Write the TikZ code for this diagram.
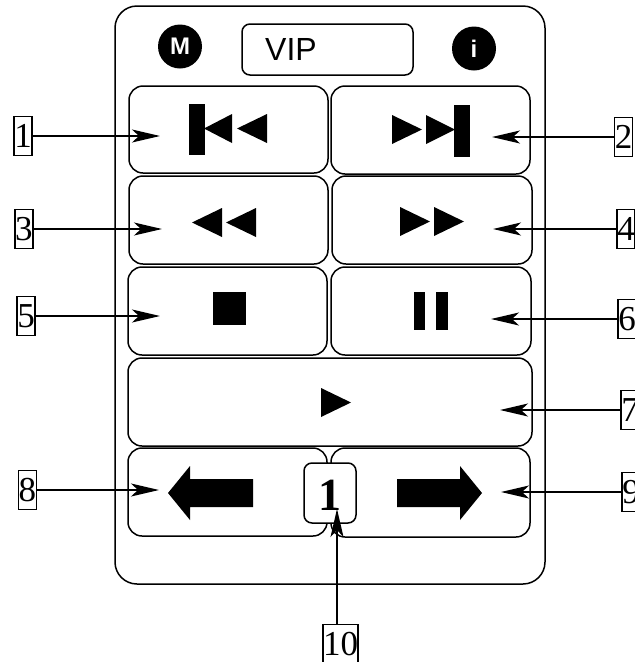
\documentclass[tikz,border=0pt]{standalone}
\usepackage{fontspec}
\setmainfont{Liberation Serif}
\newfontfamily\sansf{Liberation Sans}
\usetikzlibrary{arrows.meta}
\tikzset{
  x=1pt,y=-1pt,
  panel/.style={draw=black,line width=1.5pt,rounded corners=#1,inner sep=0pt,fill=none},
  btn/.style={panel=14pt},
  lab/.style={draw=black,line width=1.7pt,fill=white,inner sep=0pt,font=\fontsize{35}{35}\selectfont,minimum height=39pt,minimum width=18pt,text height=23pt,text depth=0pt},
  badge/.style={circle,fill=black,minimum size=44pt,inner sep=0pt,text=white,font=\sansf\bfseries\fontsize{24}{24}\selectfont},
  call/.style={line width=1.4pt,-{Stealth[length=28pt,width=13pt,inset=7pt]}},
  icon/.style={fill=black,draw=none}
}
\begin{document}
\begin{tikzpicture}
\useasboundingbox (0,0) rectangle (635,662);
\clip (0,0) rectangle (635,662);
\node[panel=22pt,minimum width=430pt,minimum height=578pt] (body) at (330,295) {};
\node[badge] (menu) at (180,46.5) {M};
\node[badge] (info) at (474,48.5) {i};
\node[panel=8pt,minimum width=171pt,minimum height=51pt] (vipbox) at (327.5,49.5) {};
\node[anchor=base west,inner sep=0pt,font=\sansf\fontsize{32}{32}\selectfont] (viptext) at (265,60) {VIP};
% buttons
\node[btn,minimum width=199pt,minimum height=87pt] (b1) at (228.5,129.5) {};
\node[btn,minimum width=199pt,minimum height=88pt] (b2) at (430.5,130) {};
\node[btn,minimum width=199pt,minimum height=88pt] (b3) at (228.5,220) {};
\node[btn,minimum width=200pt,minimum height=88pt] (b4) at (432,220) {};
\node[btn,minimum width=199pt,minimum height=88pt] (b5) at (227.5,311) {};
\node[btn,minimum width=200pt,minimum height=88pt] (b6) at (431,311) {};
\node[btn,minimum width=404pt,minimum height=88pt] (b7) at (330,402) {};
\node[btn,minimum width=199pt,minimum height=88pt] (b8) at (227.5,492) {};
\node[btn,minimum width=199pt,minimum height=89pt] (b9) at (430.5,492.5) {};
\node[panel=8pt,fill=white,minimum width=52pt,minimum height=60pt,font=\bfseries\fontsize{46}{46}\selectfont,text height=34pt,text depth=0pt] (count) at (330,493) {1};
% icons
\fill[icon] (189,104) rectangle (205,155);
\fill[icon] (204,128.5) -- (232,114) -- (232,143) -- cycle;
\fill[icon] (237,128.5) -- (267,114) -- (267,143) -- cycle;
\fill[icon] (192,222.5) -- (222,208) -- (222,237) -- cycle;
\fill[icon] (226,222.5) -- (256,208) -- (256,237) -- cycle;
\fill[icon] (213,292) rectangle (246,325);
\fill[icon] (392,115) -- (422,129.5) -- (392,144) -- cycle;
\fill[icon] (426,115) -- (455,129.5) -- (426,144) -- cycle;
\fill[icon] (454,105) rectangle (470,157);
\fill[icon] (400,207) -- (430,221.5) -- (400,236) -- cycle;
\fill[icon] (434,207) -- (464,221.5) -- (434,236) -- cycle;
\fill[icon] (414,292) rectangle (425,330);
\fill[icon] (436,292) rectangle (448,330);
\fill[icon] (321,388) -- (351,402.5) -- (321,417) -- cycle;
\fill[icon] (168,493) -- (190,466) -- (190,479) -- (253,479) -- (253,507) -- (190,507) -- (190,520) -- cycle;
\fill[icon] (482,493) -- (460,466) -- (460,479) -- (397,479) -- (397,507) -- (460,507) -- (460,520) -- cycle;
% labels
\node[lab] (l1) at (23,136) {1};
\node[lab] (l2) at (623.5,137) {2};
\node[lab] (l3) at (24,229) {3};
\node[lab] (l4) at (626,229) {4};
\node[lab] (l5) at (26,316) {5};
\node[lab] (l6) at (627,319) {6};
\node[lab] (l7) at (630,410) {7};
\node[lab] (l8) at (27.5,490) {8};
\node[lab] (l9) at (631,492) {9};
\node[lab,minimum width=33pt] (l10) at (340.5,644) {10};
% free ends
\coordinate (t1) at (160,136);
\coordinate (t2) at (492,137);
\coordinate (t3) at (162,229);
\coordinate (t4) at (493,229);
\coordinate (t5) at (160,316);
\coordinate (t6) at (491,319);
\coordinate (t7) at (500,410);
\coordinate (t8) at (159,490);
\coordinate (t9) at (501,492);
\coordinate (t10) at (337,509);
\foreach \n in {1,...,9} {\draw[call] (l\n) -- (t\n);}
\draw[call] (l10.north -| t10) -- (t10);
\end{tikzpicture}
\end{document}
